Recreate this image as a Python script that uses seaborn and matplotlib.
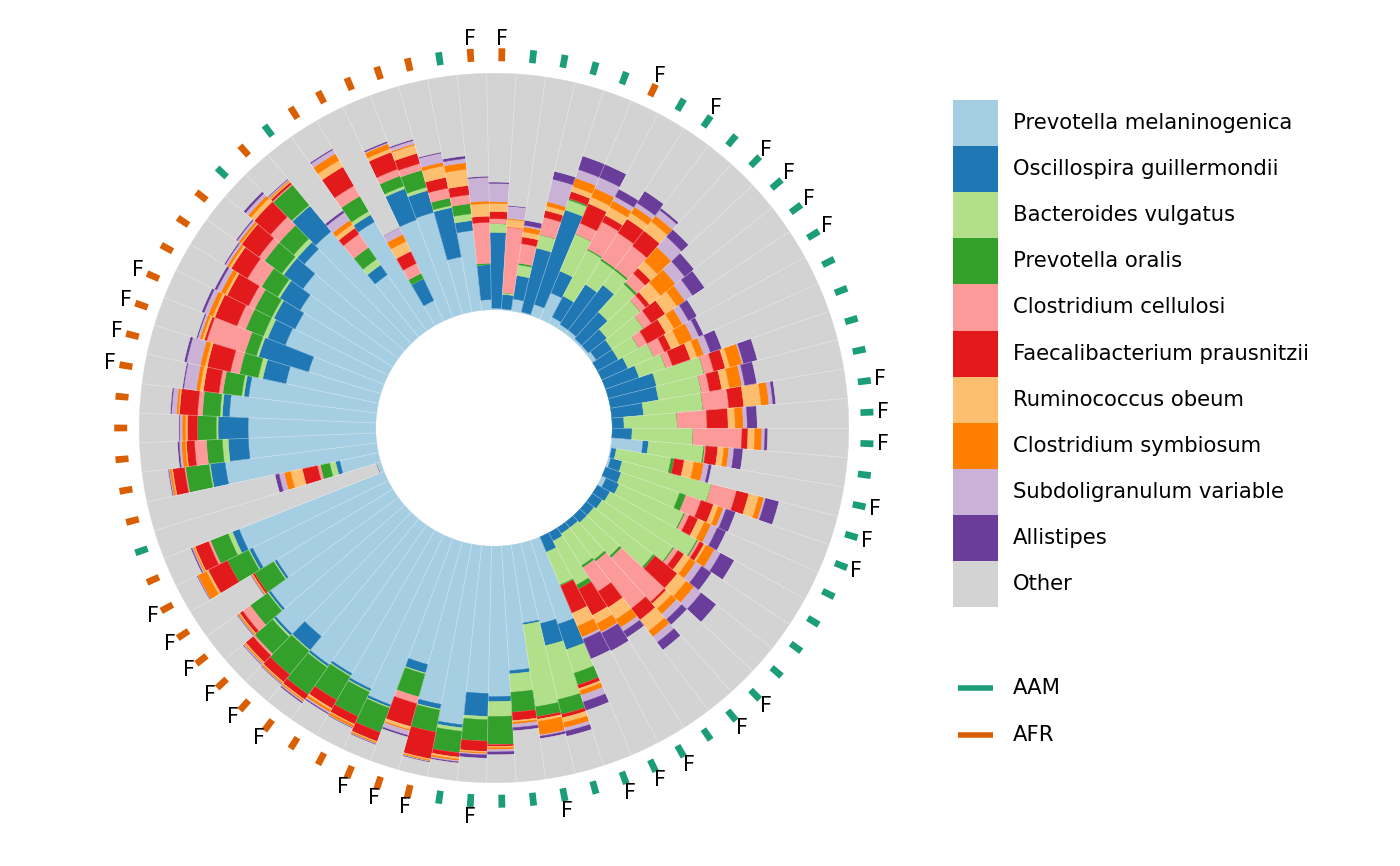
#!/usr/bin/env python3
"""Circular stacked bar chart of relative abundance per sample."""

import matplotlib

matplotlib.use("Agg")
import matplotlib.pyplot as plt
import numpy as np
import pandas as pd
import seaborn as sns
from matplotlib.patches import Rectangle

sns.set_theme(style="white")
plt.rcParams["font.family"] = ["DejaVu Sans"]
plt.rcParams["text.color"] = "black"

taxa = [
    "Prevotella melaninogenica",
    "Oscillospira guillermondii",
    "Bacteroides vulgatus",
    "Prevotella oralis",
    "Clostridium cellulosi",
    "Faecalibacterium prausnitzii",
    "Ruminococcus obeum",
    "Clostridium symbiosum",
    "Subdoligranulum variable",
    "Allistipes",
]

# one value per sample (75 samples, clockwise from the top)
prevotella_melaninogenica = [
    .007, .005, .052, .005, .05, .12, .03, .02, .02, .01,
    .01, .02, 0, 0, 0, 0, 0, 0, 0, 0,
    .133, .005, .01, 0, .02, 0, 0, 0, 0, 0,
    0, 0, 0, .373, .35, .334, .528, .636, .623, .762,
    .69, .539, .75, .72, .70, .72, .645, .72, .67, .575,
    .64, .66, .02, .167, .647, .54, .54, .62, .546, .40,
    .32, .45, .44, .46, .50, .56, .58, .29, .508, .096,
    .44, .447, .237, .34, .043,
]
oscillospira_guillermondii = [
    .32, .061, .10, .277, .42, .10, .10, .20, .24, .15,
    .10, .08, .10, .12, .15, .21, .206, .135, .05, .084,
    .023, .02, .05, .07, .06, .06, .05, .04, .04, .03,
    .03, .04, .07, .113, .096, .007, .014, .021, .097, .013,
    .02, .037, .01, .01, .01, .01, .075, .01, .01, .01,
    .015, .03, 0, .018, .063, .085, .127, .03, .02, .10,
    .22, .08, .10, .10, .10, .04, .14, .05, .034, .103,
    .14, .096, .212, .042, .148,
]
bacteroides_vulgatus = [
    .037, .007, .046, .058, .045, .17, .22, .12, .08, .16,
    .18, .16, .10, .12, .12, .208, .184, .252, .225, .258,
    .234, .235, .39, .262, .30, .42, .36, .32, .19, .17,
    .16, .21, .15, .105, .234, .351, .078, .063, .014, .015,
    .005, .005, .005, .005, .005, .005, .005, .008, .005, .005,
    .005, .02, 0, .026, .005, .025, .008, .01, .01, .02,
    .01, .02, .01, .01, .01, .02, .005, .03, .017, 0,
    .012, .015, .009, .029, 0,
]
prevotella_oralis = [
    0, 0, .007, 0, .007, 0, .005, .008, .008, .01,
    0, 0, 0, 0, 0, 0, 0, 0, 0, 0,
    .005, .014, 0, .028, .005, .005, .005, .01, .01, .01,
    .01, .02, .005, .053, .065, .043, .085, .12, .091, .092,
    .095, .10, .11, .115, .115, .14, .13, .10, .09, .095,
    .10, .08, 0, .04, .10, .067, .08, .074, .08, .08,
    .05, .08, .08, .08, .09, .08, .11, .06, .074, .024,
    .046, .074, .032, .043, .006,
]
clostridium_cellulosi = [
    .021, .278, .083, .076, 0, .05, .13, .13, .12, .05,
    .03, .04, .04, .05, .03, .042, .035, .11, .126, .207,
    .005, 0, .11, .068, .02, .01, .02, 0, .25, .25,
    .12, 0, 0, 0, 0, 0, 0, 0, 0, 0,
    0, .03, 0, 0, 0, 0, 0, .01, .04, 0,
    0, .01, 0, .013, .005, .051, 0, .021, .017, .04,
    .17, .04, .03, .07, .03, .05, .005, .07, .051, .047,
    .031, .03, .043, .038, .173,
]
faecalibacterium_prausnitzii = [
    .03, 0, .029, .029, .03, .09, .03, .07, .08, .03,
    .02, .07, .09, .03, .08, .05, .052, .063, .089, .025,
    .05, .042, .053, .055, .04, .02, .03, .12, .01, .06,
    .08, .125, .125, .015, .014, .01, .035, .007, .043, .018,
    .115, .10, .04, .035, .04, .025, .04, .04, .015, .008,
    .09, .06, 0, .065, .05, .034, .042, .076, .066, .10,
    .01, .10, .10, .08, .09, .09, .01, .03, .092, .056,
    .076, .044, .046, .039, .026,
]
ruminococcus_obeum = [
    .035, .033, .022, .02, .023, .03, .04, .03, .05, .04,
    .06, .06, .04, .04, .03, .02, .033, .074, .03, .029,
    .026, .042, .044, .022, .03, .01, .03, .05, .03, .06,
    .06, .04, .06, .01, .021, .01, .007, .005, .005, .008,
    .005, .014, .005, .005, .008, .005, .005, .005, .005, .004,
    .01, .005, 0, .051, .005, .005, .008, .005, .015, .01,
    .01, .01, .01, .01, .005, .02, .005, .02, .032, .047,
    .015, .037, .05, .069, .053,
]
clostridium_symbiosum = [
    .007, .004, .021, .018, .037, .04, .03, .03, .03, .08,
    .08, .04, .04, .06, .03, .054, .053, .033, .034, .03,
    .021, .042, .022, .022, .03, .04, .03, .04, .03, .03,
    .04, .04, .05, .02, .023, .058, .008, .008, .005, .007,
    .005, .005, .005, .01, .01, .005, .005, .005, .005, .003,
    .04, .005, 0, .028, .008, .016, .014, .008, .015, .02,
    .01, .02, .02, .01, .01, .015, .005, .02, .032, .032,
    .023, .005, .015, .028, .011,
]
subdoligranulum_variable = [
    .077, .052, .007, .098, .038, .05, .02, .02, .03, .06,
    .05, .04, .03, .03, .03, .006, .013, .017, .017, .013,
    .022, .022, .008, .013, .03, .03, .03, .04, .03, .03,
    .02, .005, .01, .03, .015, .005, .015, .01, .005, .005,
    .003, .02, .003, .003, .007, .005, .003, .005, .003, .002,
    .003, .005, 0, .022, .004, .01, .011, .021, .054, .06,
    .01, .02, .02, .01, .01, .015, .005, .04, .02, .032,
    .005, .015, .04, .018, .10,
]
allistipes = [
    .006, .003, .021, .034, .06, .06, .035, .06, .01, .04,
    .05, .06, .04, .02, .05, .06, .051, .012, .042, .012,
    .038, .012, .058, .042, .04, .065, .05, .08, .03, .04,
    .03, .085, .09, .038, .022, .01, .013, .012, .014, .005,
    .002, .007, .002, .002, .005, .005, .002, .002, .002, .001,
    .002, .005, 0, .017, .003, .007, .003, .005, .005, .01,
    .005, .01, .01, .005, .005, .01, .003, .01, .005, 0,
    .006, .005, .004, .011, .005,
]

# R = AFR, M = AAM
population_codes = (
    "RMMMM" "RMMMM" "MMMMM" "MMMMM" "MMMMM" "MMMMM" "MMMMM" "MMMMM"
    "RRRRR" "RRRRR" "RRMRR" "RRRRR" "RRRRR" "MRMRR" "RRRMR"
)
sex_codes = (
    "FMMMM" "FMFMF" "FFFMM" "MMFFF" "MFFFM" "MMMFF" "MFFFM" "FMMFM"
    "FFFMM" "FFFFF" "FMMMM" "MMMFF" "FFMMM" "MMMMM" "MMMMF"
)


def main():
    """Main entry point."""
    series = [
        prevotella_melaninogenica, oscillospira_guillermondii,
        bacteroides_vulgatus, prevotella_oralis, clostridium_cellulosi,
        faecalibacterium_prausnitzii, ruminococcus_obeum,
        clostridium_symbiosum, subdoligranulum_variable, allistipes,
    ]
    n = len(prevotella_melaninogenica)
    wide = pd.DataFrame(dict(zip(taxa, series)))
    wide["Other"] = (1 - wide.sum(axis=1)).clip(lower=0)
    wide["sample"] = np.arange(n)
    df = wide.melt(id_vars="sample", var_name="taxon", value_name="abundance")
    order = taxa + ["Other"]
    df["taxon"] = pd.Categorical(df["taxon"], categories=order, ordered=True)
    df = df.sort_values(["sample", "taxon"])
    df["bottom"] = df.groupby("sample")["abundance"].cumsum() - df["abundance"]

    colors = sns.color_palette("Paired", 10) + ["#d3d3d3"]
    pop_pal = dict(zip(["AAM", "AFR"], sns.color_palette("Dark2", 2)))
    pops = ["AFR" if c == "R" else "AAM" for c in population_codes]

    fig = plt.figure(figsize=(14, 8.66), dpi=100)
    ax = fig.add_axes([0.0657, 0.0416, 0.5743, 0.9284], projection="polar")
    ax.set_theta_zero_location("N")
    ax.set_theta_direction(-1)
    ax.set_ylim(-0.5, 1.2)
    ax.axis("off")

    width = 2 * np.pi / n
    theta = np.deg2rad(1.2) + np.arange(n) * width
    for taxon, color in zip(order, colors):
        sub = df[df["taxon"] == taxon]
        ax.bar(theta[sub["sample"]], sub["abundance"], bottom=sub["bottom"],
               width=width, color=color, edgecolor=color, linewidth=0.3)
    ax.vlines(theta - width / 2, 0, 1, color="white", lw=0.5, alpha=0.4)

    # population ticks and sex labels on the outer ring
    ax.bar(theta, 0.055, bottom=1.051, width=0.018,
           color=[pop_pal[p] for p in pops], linewidth=0)
    for t, s in zip(theta, sex_codes):
        if s == "F":
            ax.text(t, 1.147, "F", ha="center", va="center", fontsize=15,
                    color="black")

    # legend drawn in pixel space
    lax = fig.add_axes([0, 0, 1, 1])
    lax.set_xlim(0, 1400)
    lax.set_ylim(866, 0)
    lax.axis("off")
    key_h = 46.1
    for i, (label, color) in enumerate(zip(order, colors)):
        y0 = 100 + i * key_h
        lax.add_patch(Rectangle((953, y0), 45, key_h, color=color, lw=0))
        lax.text(1013, y0 + key_h / 2, label, va="center", ha="left",
                 fontsize=15.2, color="black")
    for i, pop in enumerate(["AAM", "AFR"]):
        y = 688 + i * 47
        lax.plot([958, 993], [y, y], color=pop_pal[pop], lw=4,
                 solid_capstyle="butt")
        lax.text(1013, y, pop, va="center", ha="left", fontsize=15.2,
                 color="black")

    fig.savefig("out.png", dpi=100)
    plt.close(fig)


if __name__ == "__main__":
    main()
